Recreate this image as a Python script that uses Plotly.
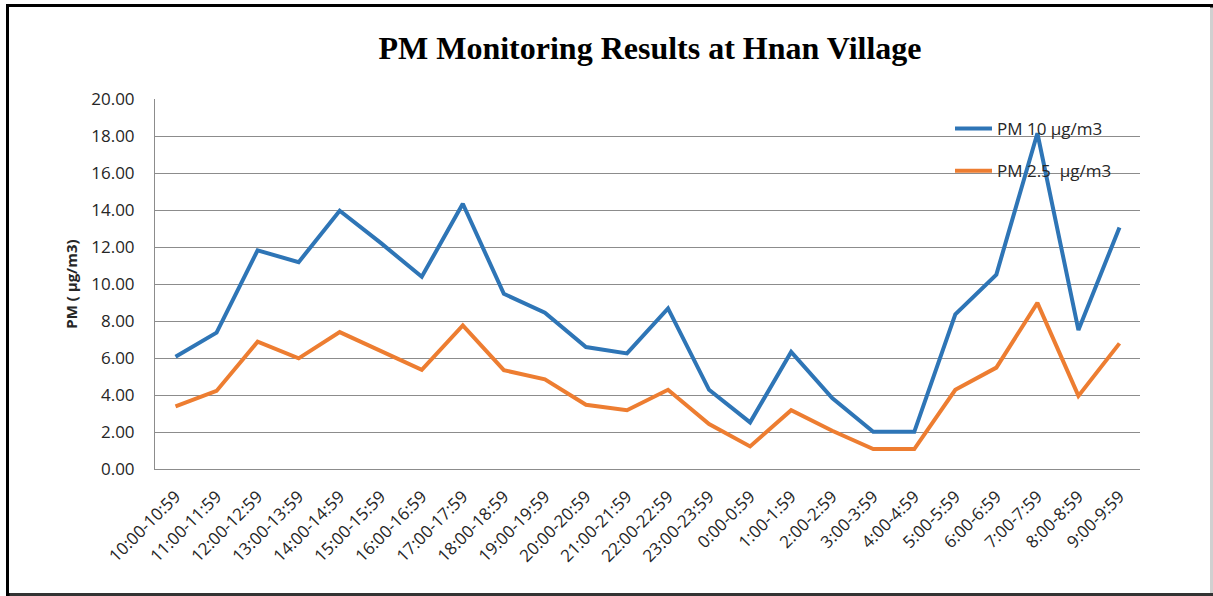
import plotly.graph_objects as go

categories = ["10:00-10:59", "11:00-11:59", "12:00-12:59", "13:00-13:59", "14:00-14:59",
              "15:00-15:59", "16:00-16:59", "17:00-17:59", "18:00-18:59", "19:00-19:59",
              "20:00-20:59", "21:00-21:59", "22:00-22:59", "23:00-23:59", "0:00-0:59",
              "1:00-1:59", "2:00-2:59", "3:00-3:59", "4:00-4:59", "5:00-5:59",
              "6:00-6:59", "7:00-7:59", "8:00-8:59", "9:00-9:59"]

pm10 = [6.07, 7.37, 11.82, 11.18, 13.96, 12.22, 10.39, 14.34, 9.47, 8.45,
        6.59, 6.25, 8.68, 4.28, 2.52, 6.33, 3.83, 2.01, 2.01, 8.36,
        10.51, 18.15, 7.51, 13.06]

pm25 = [3.38, 4.22, 6.88, 5.98, 7.40, 6.38, 5.36, 7.76, 5.34, 4.85,
        3.47, 3.18, 4.28, 2.43, 1.22, 3.18, 2.07, 1.08, 1.08, 4.28,
        5.48, 8.98, 3.95, 6.79]

series_names = ["PM 10 µg/m3", "PM 2.5  µg/m3"]
y_ticks = [0, 2, 4, 6, 8, 10, 12, 14, 16, 18, 20]

W, H = 1213, 596
L, R, T, B = 155, 1140, 99, 469  # plot area in pixels


def px_x(p):
    return (p - L) / (R - L)


def px_y(p):
    return (B - p) / (B - T)


FONT = "Open Sans"
TXT = "#262626"

fig = go.Figure()
fig.add_trace(go.Scatter(x=categories, y=pm10, mode="lines", name=series_names[0],
                         line=dict(color="#2E75B6", width=4), legendgroup="a"))
fig.add_trace(go.Scatter(x=categories, y=pm25, mode="lines", name=series_names[1],
                         line=dict(color="#ED7D31", width=4), legendgroup="b"))

shapes = [
    # outer frame
    dict(type="rect", xref="paper", yref="paper", x0=px_x(7.5), x1=px_x(1211.5), y0=px_y(5.5), y1=px_y(594.5),
         line=dict(color="black", width=3), fillcolor="rgba(0,0,0,0)", layer="above"),
    dict(type="line", xref="paper", yref="paper", x0=px_x(1211.5), x1=px_x(1211.5), y0=px_y(7.5), y1=px_y(596),
         line=dict(color="#d0d0d0", width=3), layer="above"),
    dict(type="line", xref="paper", yref="paper", x0=px_x(9.5), x1=px_x(1213), y0=px_y(594.5), y1=px_y(594.5),
         line=dict(color="#333333", width=3), layer="above"),
]

fig.update_layout(
    width=W, height=H,
    margin=dict(l=L, r=W - R, t=T, b=H - B, pad=0),
    paper_bgcolor="white", plot_bgcolor="white",
    title=dict(text="<b>PM Monitoring Results at Hnan Village</b>",
               font=dict(family="Liberation Serif", size=32, color="black"),
               x=650 / W, xanchor="center", xref="container",
               y=1 - 48 / H, yanchor="middle", yref="container"),
    font=dict(family=FONT, size=17, color=TXT),
    showlegend=True,
    legend=dict(x=px_x(950), y=px_y(111), xanchor="left", yanchor="top",
                bgcolor="rgba(0,0,0,0)", font=dict(family=FONT, size=17, color=TXT),
                traceorder="grouped", tracegroupgap=17, itemwidth=37),
    shapes=shapes,
)

fig.update_xaxes(type="category", range=[-0.5, len(categories) - 0.5],
                 tickangle=-45, showgrid=False, showline=True, linecolor="#8c8c8c", linewidth=1,
                 ticks="", ticklabelstandoff=10,
                 tickfont=dict(family=FONT, size=17, color=TXT))
fig.update_yaxes(range=[0, 20], tickvals=y_ticks, tickformat=".2f",
                 showgrid=True, gridcolor="#8c8c8c", gridwidth=1,
                 showline=True, linecolor="#8c8c8c", linewidth=1, zeroline=False,
                 ticks="", ticklabelstandoff=16,
                 tickfont=dict(family=FONT, size=17, color=TXT),
                 title=dict(text="<b>PM ( µg/m3)</b>", standoff=9,
                            font=dict(family=FONT, size=15, color=TXT)))

fig.write_html("out.html", config={"displayModeBar": False},
               post_script="document.body.style.margin='0';")
